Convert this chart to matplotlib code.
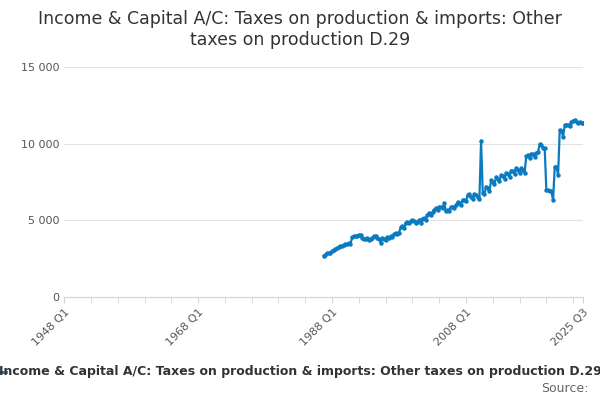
import matplotlib
matplotlib.use("Agg")
import matplotlib.pyplot as plt
import matplotlib.ticker as mt

start_index = 155  # 1986 Q4, index from 1948 Q1
values = [2700,
 2750,2850,2850,2900, 3000,3050,3100,3200, 3250,3300,3350,3400, 3450,3450,3500,3450,
 3900,3950,3950,4000, 4050,4050,3850,3800, 3800,3850,3750,3800, 3850,3950,3950,3850,
 3800,3550,3850,3800, 3750,3900,3850,3950, 3900,4100,4150,4100, 4200,4550,4600,4500,
 4850,4900,4800,4950, 5000,4950,4850,4900, 5000,4850,5100,5150, 5050,5350,5450,5350,
 5550,5700,5800,5650, 5900,5850,5800,6100, 5600,5700,5600,5850, 5900,5800,6000,6200,
 6100,6000,6350,6300, 6250,6650,6700,6550, 6400,6700,6650,6550,
 6400,10200,6800,6700,
 7200,7100,6900,7600, 7500,7350,7800,7700, 7550,7950,7900,7700, 8100,8050,7850,8250,
 8200,8000,8400,8300, 8100,8400,8300,8100, 9200,9250,9050,9350, 9300,9150,9400,9450,
 9950,9900,9750,9700, 6950,6950,6900,6900, 6300,8500,8500,7950, 10900,10850,10450,11200,
 11250,11200,11150,11400, 11500,11550,11400,11350, 11400,11350,11350]
tick_pos = [0, 80, 160, 240, 310]
tick_labels = ["1948 Q1", "1968 Q1", "1988 Q1", "2008 Q1", "2025 Q3"]

x = list(range(start_index, start_index + len(values)))
fig = plt.figure(figsize=(6, 4), dpi=100)
ax = fig.add_axes([0.107, 0.2575, 0.865, 0.575])
ax.plot(x, values, color="#0a7bc2", lw=1.6, marker="o", ms=2.2)
ax.set_xlim(0, 310)
ax.set_ylim(0, 15000)
ax.set_yticks([0, 5000, 10000, 15000])
ax.yaxis.set_major_formatter(mt.FuncFormatter(lambda v, p: f"{int(v):,}".replace(",", " ")))
ax.grid(axis="y", color="#e3e3e3", lw=0.8)
ax.set_axisbelow(True)
ax.set_xticks(tick_pos)
ax.set_xticklabels(tick_labels, rotation=45, ha="right", rotation_mode="anchor", color="#555", fontsize=8)
ax.set_xticks(range(0, 311, 16), minor=True)
ax.tick_params(axis="x", which="both", length=4, color="#ccd6eb")
ax.tick_params(axis="y", length=0, labelcolor="#555", labelsize=8)
for s in ["top", "right", "left"]:
    ax.spines[s].set_visible(False)
ax.spines["bottom"].set_color("#ccd6eb")
fig.suptitle("Income & Capital A/C: Taxes on production & imports: Other\ntaxes on production D.29",
             y=0.975, fontsize=12.5, color="#333")
fig.text(0.5, 0.062, "Income & Capital A/C: Taxes on production & imports: Other taxes on production D.29",
         ha="center", fontsize=9, fontweight="bold", color="#333")
fig.lines.append(plt.Line2D([-0.01, 0.01], [0.07, 0.07], transform=fig.transFigure, color="#0a7bc2", lw=2))
fig.text(0.98, 0.02, "Source:", ha="right", fontsize=9, color="#666")
fig.savefig("out.png")
